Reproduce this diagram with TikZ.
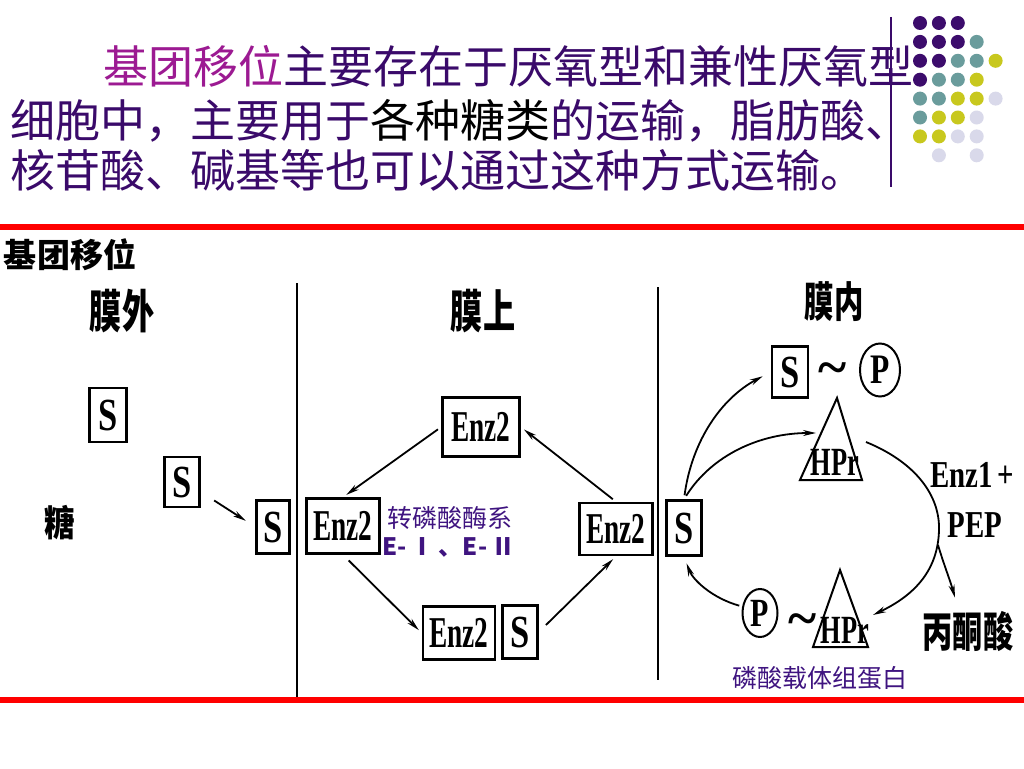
\documentclass[tikz,border=0pt]{standalone}
\usepackage{fontspec}
\usepackage{graphicx}
\setmainfont{Liberation Serif}
\newfontfamily\cjk{Noto Sans CJK SC}
\usetikzlibrary{arrows.meta,shapes.geometric}
\definecolor{magtxt}{HTML}{9C1A92}
\definecolor{purtxt}{HTML}{3A0A6A}
\definecolor{lblpur}{HTML}{3F1480}
\definecolor{dotP}{HTML}{3C0C6C}
\definecolor{dotT}{HTML}{6A9C9C}
\definecolor{dotY}{HTML}{C8C81E}
\definecolor{dotL}{HTML}{D9D9EA}
\newcommand\cnd[2]{\scalebox{#1}[1]{#2}}
\begin{document}
\begin{tikzpicture}[x=1pt,y=-1pt,
  toptext/.style={font=\cjk\fontsize{45}{54}\selectfont, anchor=base west, inner sep=0pt},
  box/.style={draw=black, line width=2.6pt, inner sep=0pt, rectangle},
  ell/.style={draw=black, line width=2pt, inner sep=0pt, ellipse},
  arr/.style={line width=1.8pt, -{Stealth[length=13pt,width=6pt]}, shorten <=4pt, shorten >=4pt},
  cjkb/.style={font=\cjk\bfseries\fontsize{#1}{#1}\selectfont, inner sep=0pt},
  plbl/.style={font=\cjk\fontsize{25}{30}\selectfont, text=lblpur, inner sep=0pt},
  enz/.style={font=\bfseries\fontsize{44}{44}\selectfont},
  ess/.style={font=\bfseries\fontsize{46}{46}\selectfont},
  serb/.style={font=\bfseries\fontsize{#1}{#1}\selectfont, inner sep=0pt},
  tri/.style={draw=black, line width=2pt, line join=miter}
]
\useasboundingbox (0,0) rectangle (1024,768);
\fill[white] (0,0) rectangle (1024,768);

% decorative dots
\foreach \c/\r/\k in {0/0/dotP,1/0/dotP,2/0/dotP,
  0/1/dotP,1/1/dotP,2/1/dotP,3/1/dotT,
  0/2/dotP,1/2/dotP,2/2/dotT,3/2/dotT,4/2/dotY,
  0/3/dotP,1/3/dotT,2/3/dotT,3/3/dotY,
  0/4/dotT,1/4/dotT,2/4/dotY,3/4/dotY,4/4/dotL,
  0/5/dotT,1/5/dotY,2/5/dotY,3/5/dotL,
  0/6/dotY,1/6/dotY,2/6/dotL,3/6/dotL,
  1/7/dotL,3/7/dotL}
  \fill[\k] ({920+18.9*\c},{23+18.9*\r}) circle (7);
\draw[line width=1.3pt, purtxt] (891,17) -- (891,187);

% heading text
\node[toptext, text=magtxt] (t1a) at (103,83) {基团移位};
\node[toptext, text=purtxt] (t1b) at (t1a.base east) {主要存在于厌氧型和兼性厌氧型};
\node[toptext] (t2) at (10,137) {\textcolor{purtxt}{细胞中，主要用于}\textcolor{black}{各种糖类}\textcolor{purtxt}{的运输，脂肪酸、}};
\node[toptext, text=purtxt] (t3) at (10,187) {核苷酸、碱基等也可以通过这种方式运输。};

% red rules
\fill[red] (0,224) rectangle (1024,230);
\fill[red] (0,697) rectangle (1024,703);

% membrane lines
\draw[line width=2pt] (297,283) -- (297,697);
\draw[line width=2pt] (658,287) -- (658,680);

% labels
\node[cjkb=33] (title) at (70,255) {基团移位};
\node[cjkb=46] (mw) at (122,311) {\cnd{0.7}{膜外}};
\node[cjkb=46] (ms) at (483,311) {\cnd{0.7}{膜上}};
\node[cjkb=42] (mn) at (834,302) {\cnd{0.7}{膜内}};
\node[cjkb=36] (tang) at (60,523) {\cnd{0.85}{糖}};
\node[cjkb=42] (bts) at (968,632) {\cnd{0.72}{丙酮酸}};

% boxes outside / membrane
\node[box, minimum width=37pt, minimum height=54pt, ess] (s1) at (108,415) {\cnd{0.75}{S}};
\node[box, minimum width=35pt, minimum height=50pt, ess] (s2) at (182,482) {\cnd{0.75}{S}};
\node[box, minimum width=33pt, minimum height=53pt, ess] (s3) at (273,527) {\cnd{0.75}{S}};
\node[box, minimum width=73pt, minimum height=55pt, enz] (enzL) at (343,526) {\cnd{0.62}{Enz2}};
\node[box, minimum width=77pt, minimum height=59pt, enz] (enzT) at (481,427) {\cnd{0.62}{Enz2}};
\node[box, minimum width=73pt, minimum height=52pt, enz] (enzR) at (616,529) {\cnd{0.62}{Enz2}};
\node[box, minimum width=72pt, minimum height=53pt, enz] (enzB) at (459,633) {\cnd{0.62}{Enz2}};
\node[box, minimum width=35pt, minimum height=53pt, ess] (sB) at (520,632) {\cnd{0.75}{S}};
\node[box, minimum width=35pt, minimum height=55pt, ess] (sR) at (684,528) {\cnd{0.75}{S}};

\node[plbl] (zl1) at (450,518) {转磷酸酶系};
\node[plbl, font=\cjk\bfseries\fontsize{24}{28}\selectfont] (zl2) at (449,547) {E-\,Ⅰ\,、E-\,Ⅱ};

% arrows in membrane
\draw[arr] ([xshift=10pt,yshift=10pt]s2.south east) -- ([xshift=-6pt,yshift=4pt]s3.west);
\draw[arr] (enzT.west) -- (enzL.north);
\draw[arr, shorten <=8pt] (enzL.south) -- (enzB.west);
\draw[arr, shorten <=10pt] (sB.east) -- (enzR.south);
\draw[arr] (enzR.north) -- (enzT.east);

% inside
\node[box, minimum width=36pt, minimum height=51pt, ess] (sT) at (790,372) {\cnd{0.75}{S}};
\node[serb=54] (tlT) at (833,374) {\textasciitilde};
\node[ell, minimum width=40pt, minimum height=53pt, font=\bfseries\fontsize{42}{42}\selectfont] (pT) at (880,370) {\cnd{0.75}{P}};

\coordinate (triTa) at (837,398);
\coordinate (triTl) at (800,480);
\coordinate (triTr) at (862,480);
\draw[tri] (triTa) -- (triTl) -- (triTr) -- cycle;
\node[serb=40] (hprT) at (835,462) {\cnd{0.66}{HPr}};

\coordinate (triBa) at (840,570);
\coordinate (triBl) at (813,647);
\coordinate (triBr) at (868,647);
\draw[tri] (triBa) -- (triBl) -- (triBr) -- cycle;
\node[serb=40] (hprB) at (845,630) {\cnd{0.66}{HPr}};

\node[ell, minimum width=35pt, minimum height=48pt, font=\bfseries\fontsize{40}{40}\selectfont] (pB) at (760,613) {\cnd{0.75}{P}};
\node[serb=54] (tlB) at (803,625) {\textasciitilde};

\node[serb=38] (enz1) at (972,475) {\cnd{0.76}{Enz1\,+}};
\node[serb=38] (pep) at (975,525) {\cnd{0.76}{PEP}};
\node[plbl] (lin) at (820,678) {磷酸载体组蛋白};

\coordinate (triTin) at (820,433);
\coordinate (arcS) at (866,442);
\coordinate (brS) at (938,545);

\draw[arr, shorten >=9pt] (sR.north) .. controls (692,440) and (722,398) .. (sT.west);
\draw[arr] (sR.north) .. controls (712,455) and (760,433) .. (triTin);
\draw[arr, shorten <=0pt] (arcS) .. controls (915,462) and (940,495) .. (939,530) .. controls (938,570) and (915,595) .. (hprB.north east);
\draw[line width=1.8pt, -{Stealth[length=13pt,width=6pt]}] (brS) .. controls (944,565) and (950,580) .. ([xshift=-13pt,yshift=14pt]bts.north);
\draw[arr, shorten <=3pt, shorten >=7pt] (pB.160) .. controls (712,598) and (693,580) .. (sR.south);
\end{tikzpicture}
\end{document}
